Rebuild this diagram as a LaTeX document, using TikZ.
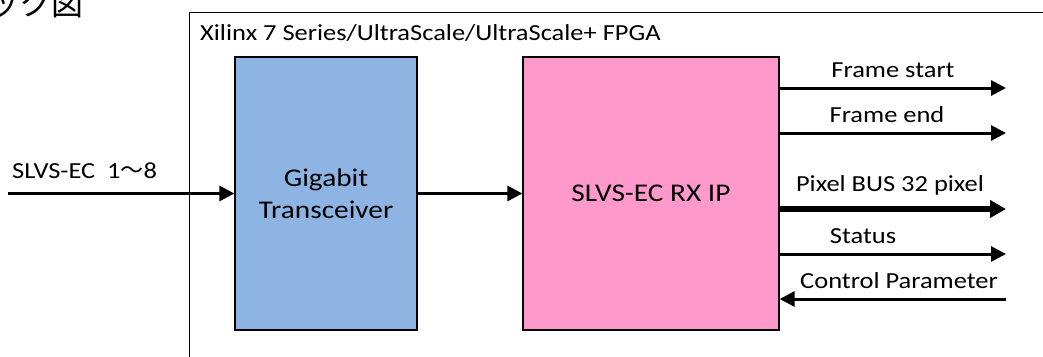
\documentclass[tikz,border=0pt]{standalone}
\usepackage{fontspec}
\setmainfont{Carlito}[FakeStretch=1.15]
\newfontfamily\jpfont{Noto Sans CJK JP}
\usetikzlibrary{arrows.meta}

\definecolor{gtblue}{HTML}{8EB4E3}
\definecolor{rxpink}{HTML}{FF99CC}

\begin{document}
\begin{tikzpicture}[
      x = 1pt, y = -1pt,
      every node/.style = {inner sep = 0pt, font = \fontsize{23}{26}\selectfont},
      block/.style = {draw, black, line width = 1.3pt, minimum height = 273pt,
        font = \fontsize{25.5}{32}\selectfont},
      sig/.style = {line width = 3pt, -{Triangle[length = 15pt, width = 15pt]}},
      bus/.style = {line width = 6pt, -{Triangle[length = 16pt, width = 17pt]}},
      lbl/.style = {font = \fontsize{23}{26}\selectfont}
      ]
    \useasboundingbox (0,0) rectangle (1043,356);
    \clip (0,0) rectangle (1043,356);
    % heading, cut off at the top
    \node[anchor = base east, font = \fontsize{32}{34}\selectfont] (head) at (84,16) {\jpfont ック図};
    % FPGA frame
    \draw[line width = 1.5pt] (189.5,12.5) rectangle (1080,400);
    \node[anchor = west] (fpga) at (200,33) {Xilinx 7 Series/UltraScale/UltraScale+ FPGA};
    \node[block, fill = gtblue, minimum width = 182pt, align = center] (gt) at (326,193.5) {Gigabit\\Transceiver}; % 0
    \node[block, fill = rxpink, minimum width = 256pt] (rx) at (651,193.5) {SLVS-EC RX IP}; % 1
    % input
    \coordinate (in) at (8,193.5);
    \node[lbl, anchor = west] (inlbl) at (12,171) {SLVS-EC\ \ 1{\jpfont 〜}8};
    \draw[sig] (in) -- (gt.west);
    \draw[sig] (gt.east) -- (rx.west);
    % outputs
    \coordinate (fs) at (1006,88);
    \coordinate (fe) at (1006,133);
    \coordinate (px) at (1006,209);
    \coordinate (st) at (1006,254);
    \coordinate (cp) at (1006,299);
    \node[lbl] (fslbl) at (893,70) {Frame start};
    \node[lbl] (felbl) at (887,115) {Frame end};
    \node[lbl] (pxlbl) at (890,185) {Pixel BUS 32 pixel};
    \node[lbl] (stlbl) at (863,236) {Status};
    \node[lbl] (cplbl) at (899,281) {Control Parameter};
    \draw[sig] (rx.east |- fs) -- (fs);
    \draw[sig] (rx.east |- fe) -- (fe);
    \draw[bus] (rx.east |- px) -- (px);
    \draw[sig] (rx.east |- st) -- (st);
    \draw[sig] (cp) -- (rx.east |- cp);
  \end{tikzpicture}
\end{document}
